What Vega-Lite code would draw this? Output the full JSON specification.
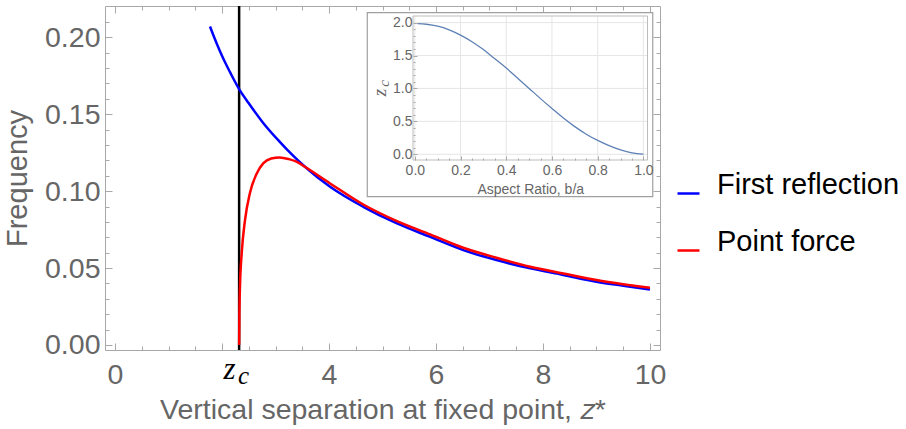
{
  "$schema": "https://vega.github.io/schema/vega-lite/v6.json",
  "autosize": "none",
  "width": 555,
  "height": 344,
  "padding": {"left": 105, "top": 6, "right": 246, "bottom": 79},
  "background": "white",
  "config": {
    "view": {"stroke": "#a8a8a8", "strokeWidth": 1},
    "axis": {
      "labelFont": "Liberation Sans",
      "titleFont": "Liberation Sans",
      "labelColor": "#666666",
      "titleColor": "#666666",
      "titleFontWeight": "normal",
      "domain": false,
      "grid": false,
      "tickColor": "#a8a8a8",
      "tickWidth": 1,
      "labelFlush": false,
      "labelOverlap": false,
      "labelBound": false
    }
  },
  "datasets": {
    "curves": [
      {"x": 1.776, "y": 0.207, "series": "First reflection"},
      {"x": 1.85, "y": 0.2003, "series": "First reflection"},
      {"x": 1.95, "y": 0.1919, "series": "First reflection"},
      {"x": 2.05, "y": 0.1842, "series": "First reflection"},
      {"x": 2.15, "y": 0.1773, "series": "First reflection"},
      {"x": 2.32, "y": 0.1663, "series": "First reflection"},
      {"x": 2.5, "y": 0.1571, "series": "First reflection"},
      {"x": 2.77, "y": 0.1443, "series": "First reflection"},
      {"x": 3.08, "y": 0.132, "series": "First reflection"},
      {"x": 3.3, "y": 0.124, "series": "First reflection"},
      {"x": 3.55, "y": 0.1158, "series": "First reflection"},
      {"x": 4.02, "y": 0.1028, "series": "First reflection"},
      {"x": 4.64, "y": 0.0898, "series": "First reflection"},
      {"x": 5.27, "y": 0.079, "series": "First reflection"},
      {"x": 5.89, "y": 0.0703, "series": "First reflection"},
      {"x": 6.51, "y": 0.0617, "series": "First reflection"},
      {"x": 7.13, "y": 0.0552, "series": "First reflection"},
      {"x": 7.76, "y": 0.0498, "series": "First reflection"},
      {"x": 8.38, "y": 0.0455, "series": "First reflection"},
      {"x": 9.0, "y": 0.0411, "series": "First reflection"},
      {"x": 9.5, "y": 0.0385, "series": "First reflection"},
      {"x": 10.0, "y": 0.0361, "series": "First reflection"},
      {"x": 2.32, "y": 0.0, "series": "Point force"},
      {"x": 2.325, "y": 0.02, "series": "Point force"},
      {"x": 2.336, "y": 0.038, "series": "Point force"},
      {"x": 2.368, "y": 0.0595, "series": "Point force"},
      {"x": 2.43, "y": 0.0812, "series": "Point force"},
      {"x": 2.52, "y": 0.0985, "series": "Point force"},
      {"x": 2.65, "y": 0.1115, "series": "Point force"},
      {"x": 2.77, "y": 0.118, "series": "Point force"},
      {"x": 2.92, "y": 0.1212, "series": "Point force"},
      {"x": 3.08, "y": 0.1219, "series": "Point force"},
      {"x": 3.25, "y": 0.1208, "series": "Point force"},
      {"x": 3.4, "y": 0.119, "series": "Point force"},
      {"x": 3.55, "y": 0.1158, "series": "Point force"},
      {"x": 4.02, "y": 0.105, "series": "Point force"},
      {"x": 4.64, "y": 0.0913, "series": "Point force"},
      {"x": 5.27, "y": 0.0805, "series": "Point force"},
      {"x": 5.89, "y": 0.0719, "series": "Point force"},
      {"x": 6.51, "y": 0.0632, "series": "Point force"},
      {"x": 7.13, "y": 0.0567, "series": "Point force"},
      {"x": 7.76, "y": 0.0509, "series": "Point force"},
      {"x": 8.38, "y": 0.0465, "series": "Point force"},
      {"x": 9.0, "y": 0.0422, "series": "Point force"},
      {"x": 9.5, "y": 0.0395, "series": "Point force"},
      {"x": 10.0, "y": 0.0372, "series": "Point force"}
    ],
    "marker": [{"zc": 2.32}],
    "inset": [
      {"r": 0.012, "z": 1.985},
      {"r": 0.05, "z": 1.975},
      {"r": 0.1, "z": 1.945},
      {"r": 0.15, "z": 1.89},
      {"r": 0.2, "z": 1.81},
      {"r": 0.25, "z": 1.71},
      {"r": 0.3, "z": 1.59},
      {"r": 0.35, "z": 1.45},
      {"r": 0.4, "z": 1.31},
      {"r": 0.45, "z": 1.155},
      {"r": 0.5, "z": 1.0},
      {"r": 0.55, "z": 0.845},
      {"r": 0.6, "z": 0.695},
      {"r": 0.65, "z": 0.55},
      {"r": 0.7, "z": 0.42},
      {"r": 0.75, "z": 0.305},
      {"r": 0.8, "z": 0.21},
      {"r": 0.85, "z": 0.13},
      {"r": 0.9, "z": 0.065},
      {"r": 0.95, "z": 0.02},
      {"r": 1.0, "z": 0.002}
    ],
    "insetGridX": [{"g": 0}, {"g": 0.2}, {"g": 0.4}, {"g": 0.6}, {"g": 0.8}, {"g": 1.0}],
    "insetGridY": [{"g": 0}, {"g": 0.5}, {"g": 1.0}, {"g": 1.5}, {"g": 2.0}]
  },
  "layer": [
    {
      "data": {"name": "marker"},
      "mark": {"type": "rule", "color": "#000000", "strokeWidth": 2.5},
      "encoding": {
        "x": {"field": "zc", "type": "quantitative", "scale": {"domain": [-0.187, 10.187], "nice": false, "zero": false}, "axis": null}
      }
    },
    {
      "data": {"name": "curves"},
      "mark": {"type": "line", "strokeWidth": 2.5, "interpolate": "monotone"},
      "encoding": {
        "x": {"field": "x", "type": "quantitative", "scale": {"domain": [-0.187, 10.187], "nice": false, "zero": false},
          "axis": {"orient": "bottom", "values": [0, 2, 4, 6, 8, 10], "labelExpr": "datum.value == 2 ? '' : datum.label", "labelFontSize": 28.5, "tickSize": -7, "labelPadding": 17, "title": "Vertical separation at fixed point, 𝑧*", "titleFontSize": 28.5, "titlePadding": 7}},
        "y": {"field": "y", "type": "quantitative", "scale": {"domain": [-0.00325, 0.2203], "nice": false, "zero": false},
          "axis": {"orient": "left", "values": [0, 0.05, 0.1, 0.15, 0.2], "format": ".2f", "labelFontSize": 28.5, "tickSize": -7, "labelPadding": 12, "title": "Frequency", "titleFontSize": 29, "titlePadding": 12}},
        "color": {"field": "series", "type": "nominal",
          "scale": {"domain": ["First reflection", "Point force"], "range": ["#0000ff", "#ff0000"]},
          "legend": {"orient": "none", "legendX": 569, "legendY": 173, "title": null, "symbolType": "stroke", "symbolSize": 484, "symbolStrokeWidth": 2.5, "labelFontSize": 29, "labelFont": "Liberation Sans", "labelColor": "#000000", "labelBaseline": "alphabetic", "labelOffset": 14, "labelLimit": 400, "rowPadding": 27, "padding": 0}}
      }
    },
    {
      "data": {"name": "marker"},
      "mark": {"type": "point", "opacity": 0},
      "encoding": {
        "x": {"field": "zc", "type": "quantitative", "scale": {"domain": [-0.187, 10.187], "nice": false, "zero": false},
          "axis": {"orient": "bottom", "values": [0.5, 1, 1.5, 2.5, 3, 3.5, 4.5, 5, 5.5, 6.5, 7, 7.5, 8.5, 9, 9.5], "labels": false, "tickSize": -4, "title": null}},
        "y": {"datum": 0.1, "type": "quantitative", "scale": {"domain": [-0.00325, 0.2203], "nice": false, "zero": false},
          "axis": {"orient": "left", "values": [0.01, 0.02, 0.03, 0.04, 0.06, 0.07, 0.08, 0.09, 0.11, 0.12, 0.13, 0.14, 0.16, 0.17, 0.18, 0.19, 0.21], "labels": false, "tickSize": -4, "title": null}}
      }
    },
    {
      "data": {"name": "marker"},
      "mark": {"type": "point", "opacity": 0},
      "encoding": {
        "x": {"field": "zc", "type": "quantitative", "scale": {"domain": [-0.187, 10.187], "nice": false, "zero": false},
          "axis": {"orient": "top", "values": [0, 2, 4, 6, 8, 10], "labels": false, "tickSize": -7, "title": null}},
        "y": {"datum": 0.1, "type": "quantitative", "scale": {"domain": [-0.00325, 0.2203], "nice": false, "zero": false},
          "axis": {"orient": "right", "values": [0, 0.05, 0.1, 0.15, 0.2], "labels": false, "tickSize": -7, "title": null}}
      }
    },
    {
      "data": {"name": "marker"},
      "mark": {"type": "point", "opacity": 0},
      "encoding": {
        "x": {"field": "zc", "type": "quantitative", "scale": {"domain": [-0.187, 10.187], "nice": false, "zero": false},
          "axis": {"orient": "top", "values": [0.5, 1, 1.5, 2.5, 3, 3.5, 4.5, 5, 5.5, 6.5, 7, 7.5, 8.5, 9, 9.5], "labels": false, "tickSize": -4, "title": null}},
        "y": {"datum": 0.1, "type": "quantitative", "scale": {"domain": [-0.00325, 0.2203], "nice": false, "zero": false},
          "axis": {"orient": "right", "values": [0.01, 0.02, 0.03, 0.04, 0.06, 0.07, 0.08, 0.09, 0.11, 0.12, 0.13, 0.14, 0.16, 0.17, 0.18, 0.19, 0.21], "labels": false, "tickSize": -4, "title": null}}
      }
    },
    {
      "data": {"name": "marker"},
      "mark": {"type": "point", "opacity": 0},
      "encoding": {
        "x": {"field": "zc", "type": "quantitative", "scale": {"domain": [-0.187, 10.187], "nice": false, "zero": false},
          "axis": {"orient": "bottom", "values": [2.32], "ticks": false, "labelExpr": "'z'", "labelFont": "Liberation Serif", "labelFontStyle": "italic", "labelFontSize": 31, "labelColor": "#000000", "labelBaseline": "alphabetic", "labelPadding": 28, "labelOffset": -10, "title": null}}
      }
    },
    {
      "data": {"name": "marker"},
      "mark": {"type": "point", "opacity": 0},
      "encoding": {
        "x": {"field": "zc", "type": "quantitative", "scale": {"domain": [-0.187, 10.187], "nice": false, "zero": false},
          "axis": {"orient": "bottom", "values": [2.32], "ticks": false, "labelExpr": "'c'", "labelFont": "Liberation Serif", "labelFontStyle": "italic", "labelFontSize": 25, "labelColor": "#000000", "labelBaseline": "alphabetic", "labelPadding": 33, "labelOffset": 4, "title": null}}
      }
    },
    {
      "data": {"name": "marker"},
      "mark": {"type": "rect", "fill": "#ffffff", "stroke": "#a0a0a0", "strokeWidth": 1.2},
      "encoding": {
        "x": {"datum": -0.208, "type": "quantitative", "scale": {"domain": [-0.008, 1.018], "range": [308, 542.5], "nice": false, "zero": false}, "axis": null},
        "x2": {"datum": 1.041},
        "y": {"datum": 2.152, "type": "quantitative", "scale": {"domain": [-0.087, 2.1], "range": [154, 10], "nice": false, "zero": false}, "axis": null},
        "y2": {"datum": -0.644}
      }
    },
    {
      "data": {"name": "insetGridX"},
      "mark": {"type": "rule", "color": "#e6e6e6", "strokeWidth": 1},
      "encoding": {
        "x": {"field": "g", "type": "quantitative", "scale": {"domain": [-0.008, 1.018], "range": [308, 542.5], "nice": false, "zero": false}, "axis": null},
        "y": {"datum": -0.087, "type": "quantitative", "scale": {"domain": [-0.087, 2.1], "range": [154, 10], "nice": false, "zero": false}, "axis": null},
        "y2": {"datum": 2.1}
      }
    },
    {
      "data": {"name": "insetGridY"},
      "mark": {"type": "rule", "color": "#e6e6e6", "strokeWidth": 1},
      "encoding": {
        "y": {"field": "g", "type": "quantitative", "scale": {"domain": [-0.087, 2.1], "range": [154, 10], "nice": false, "zero": false}, "axis": null},
        "x": {"datum": -0.008, "type": "quantitative", "scale": {"domain": [-0.008, 1.018], "range": [308, 542.5], "nice": false, "zero": false}, "axis": null},
        "x2": {"datum": 1.018}
      }
    },
    {
      "data": {"name": "marker"},
      "mark": {"type": "rect", "fillOpacity": 0, "stroke": "#bdbdbd", "strokeWidth": 1},
      "encoding": {
        "x": {"datum": -0.008, "type": "quantitative", "scale": {"domain": [-0.008, 1.018], "range": [308, 542.5], "nice": false, "zero": false}, "axis": null},
        "x2": {"datum": 1.018},
        "y": {"datum": 2.1, "type": "quantitative", "scale": {"domain": [-0.087, 2.1], "range": [154, 10], "nice": false, "zero": false}, "axis": null},
        "y2": {"datum": -0.087}
      }
    },
    {
      "data": {"name": "inset"},
      "mark": {"type": "line", "color": "#5e81b5", "strokeWidth": 1.3, "interpolate": "monotone"},
      "encoding": {
        "x": {"field": "r", "type": "quantitative", "scale": {"domain": [-0.008, 1.018], "range": [308, 542.5], "nice": false, "zero": false},
          "axis": {"orient": "bottom", "offset": -190, "zindex": 2, "values": [0, 0.2, 0.4, 0.6, 0.8, 1.0], "format": ".1f", "labelFontSize": 14, "tickSize": -4, "tickColor": "#a8a8a8", "labelPadding": 7, "title": "Aspect Ratio, b/a", "titleFontSize": 14, "titlePadding": 5}},
        "y": {"field": "z", "type": "quantitative", "scale": {"domain": [-0.087, 2.1], "range": [154, 10], "nice": false, "zero": false},
          "axis": {"orient": "left", "offset": -308, "zindex": 2, "values": [0, 0.5, 1.0, 1.5, 2.0], "format": ".1f", "labelFontSize": 14, "tickSize": -4, "tickColor": "#a8a8a8", "labelPadding": 5, "title": "z", "titleFont": "Liberation Serif", "titleFontStyle": "italic", "titleFontSize": 19, "titleAngle": -90, "titleBaseline": "alphabetic", "titleAlign": "center", "titleX": -28, "titleY": 86}}
      }
    },
    {
      "data": {"name": "marker"},
      "mark": {"type": "point", "opacity": 0},
      "encoding": {
        "x": {"datum": 0.5, "type": "quantitative", "scale": {"domain": [-0.008, 1.018], "range": [308, 542.5], "nice": false, "zero": false},
          "axis": {"orient": "bottom", "offset": -190, "zindex": 2, "values": [0.05, 0.1, 0.15, 0.25, 0.3, 0.35, 0.45, 0.5, 0.55, 0.65, 0.7, 0.75, 0.85, 0.9, 0.95], "labels": false, "tickSize": -2, "tickColor": "#a8a8a8", "title": null}},
        "y": {"datum": 1.0, "type": "quantitative", "scale": {"domain": [-0.087, 2.1], "range": [154, 10], "nice": false, "zero": false},
          "axis": {"orient": "left", "offset": -308, "zindex": 2, "values": [0.1, 0.2, 0.3, 0.4, 0.6, 0.7, 0.8, 0.9, 1.1, 1.2, 1.3, 1.4, 1.6, 1.7, 1.8, 1.9], "labels": false, "tickSize": -2, "tickColor": "#a8a8a8", "title": "c", "titleFont": "Liberation Serif", "titleFontStyle": "italic", "titleFontSize": 15, "titleColor": "#666666", "titleAngle": -90, "titleBaseline": "alphabetic", "titleAlign": "center", "titleX": -25, "titleY": 77}}
      }
    }
  ],
  "resolve": {"scale": {"x": "independent", "y": "independent"}}
}
